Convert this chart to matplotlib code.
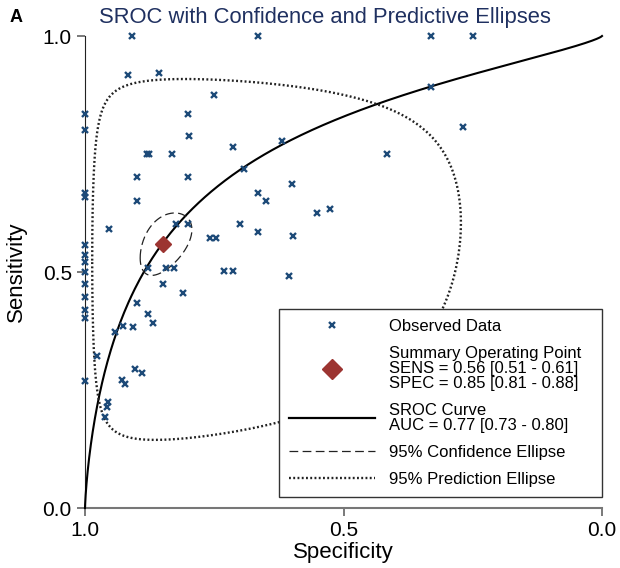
import numpy as np
import matplotlib
matplotlib.use("Agg")
import matplotlib.pyplot as plt
from matplotlib.lines import Line2D

plt.rcParams['font.family'] = ['Liberation Sans', 'DejaVu Sans']

# observed studies (specificity, sensitivity)
spec = [0.910, 0.666, 0.331, 0.249,
        0.916, 0.857, 0.750, 0.331, 0.269,
        1.000, 1.000, 0.800, 0.798,
        0.881, 0.876, 0.832, 0.714, 0.618, 0.415,
        0.900, 0.800, 0.692, 0.600,
        1.000, 1.000, 0.900, 0.666, 0.649,
        0.552, 0.526,
        0.953, 0.824, 0.800, 0.700, 0.666, 0.597,
        0.758, 0.747,
        1.000, 1.000, 1.000, 1.000, 1.000, 1.000, 1.000, 1.000, 1.000,
        0.878, 0.844, 0.828, 0.732, 0.714, 0.605,
        0.850, 0.810, 0.900, 0.879, 0.868,
        0.942, 0.926, 0.907,
        0.977, 0.903, 0.889, 0.929, 0.923,
        0.955, 0.958, 0.961]
sens = [1.000, 1.000, 1.000, 1.000,
        0.917, 0.921, 0.876, 0.893, 0.808,
        0.835, 0.801, 0.834, 0.788,
        0.751, 0.751, 0.751, 0.764, 0.778, 0.751,
        0.702, 0.702, 0.718, 0.686,
        0.667, 0.658, 0.651, 0.668, 0.651,
        0.626, 0.633,
        0.592, 0.602, 0.602, 0.602, 0.585, 0.577,
        0.573, 0.573,
        0.557, 0.536, 0.522, 0.501, 0.475, 0.446, 0.419, 0.403, 0.269,
        0.509, 0.509, 0.509, 0.502, 0.502, 0.491,
        0.474, 0.456, 0.435, 0.412, 0.393,
        0.373, 0.386, 0.384,
        0.323, 0.294, 0.285, 0.271, 0.263,
        0.225, 0.213, 0.193]

# summary estimates
sum_sens = 0.56
sum_spec = 0.85
# SROC: logit(sens) = a + b * logit(1 - spec)
sroc_a = 1.58
sroc_b = 0.77
# ellipses in logit space: centre (logit spec, logit sens), sds, correlation
conf_ell = (np.log(0.85 / 0.15), np.log(0.56 / 0.44), 0.39, 0.27, -0.45)
pred_ell = (1.64, 0.26, 2.62, 2.04, -0.08)

legend_labels = ["Observed Data",
                 "Summary Operating Point\nSENS = 0.56 [0.51 - 0.61]\nSPEC = 0.85 [0.81 - 0.88]",
                 "SROC Curve\nAUC = 0.77 [0.73 - 0.80]",
                 "95% Confidence Ellipse",
                 "95% Prediction Ellipse"]

logit = lambda p: np.log(p / (1 - p))
expit = lambda z: 1 / (1 + np.exp(-z))


def ellipse(mx, my, sdx, sdy, rho):
    t = np.linspace(0, 2 * np.pi, 500)
    xl = mx + sdx * np.cos(t)
    yl = my + sdy * (rho * np.cos(t) + np.sqrt(1 - rho ** 2) * np.sin(t))
    return expit(xl), expit(yl)


fig = plt.figure(figsize=(6.2, 5.68), dpi=100)
ax = fig.add_axes([85 / 620, 1 - 508 / 568, 517 / 620, 472 / 568])

blue = '#1d4a78'
red = '#9c3431'

fpr = np.concatenate([np.logspace(-7, -1, 400), np.linspace(0.1, 1 - 1e-7, 600)])
sroc_sens = expit(sroc_a + sroc_b * logit(fpr))
ax.plot(1 - fpr, sroc_sens, color='black', lw=1.5, clip_on=False, zorder=3)

cx, cy = ellipse(*conf_ell)
ax.plot(cx, cy, color='#222222', lw=0.9, dashes=(7, 3.5), zorder=3)
px, py = ellipse(*pred_ell)
ax.plot(px, py, color='#222222', lw=1.7, ls=(0, (0.8, 1.0)), zorder=3)

ax.plot(spec, sens, ls='none', marker='x', ms=5, mew=1.7, color=blue, clip_on=False, zorder=4)
ax.plot([sum_spec], [sum_sens], ls='none', marker='D', ms=8.5, color=red, zorder=5)

ax.set_xlim(1, 0)
ax.set_ylim(0, 1)
ax.set_xticks([1.0, 0.5, 0.0])
ax.set_yticks([0.0, 0.5, 1.0])
ax.set_xticklabels(['1.0', '0.5', '0.0'])
ax.set_yticklabels(['0.0', '0.5', '1.0'])
ax.tick_params(axis='both', labelsize=15, length=6, width=1.1, colors='#555555', labelcolor='black')
ax.spines['top'].set_visible(False)
ax.spines['right'].set_visible(False)
ax.spines['left'].set_color('#222222')
ax.spines['bottom'].set_color('#777777')
ax.spines['bottom'].set_linewidth(1.5)
ax.set_xlabel('Specificity', fontsize=16, labelpad=1)
ax.set_ylabel('Sensitivity', fontsize=16, labelpad=11)

handles = [Line2D([], [], ls='none', marker='x', ms=5, mew=1.7, color=blue),
           Line2D([], [], ls='none', marker='D', ms=10, color=red),
           Line2D([], [], color='black', lw=1.6),
           Line2D([], [], color='#222222', lw=0.9, dashes=(7, 3.5)),
           Line2D([], [], color='#222222', lw=1.7, ls=(0, (0.8, 1.0)))]
leg = ax.legend(handles, legend_labels, loc='lower left',
                bbox_to_anchor=((279 - 85) / 517, 0.023, 323 / 517, 0.3), mode='expand',
                borderaxespad=0, fontsize=12, frameon=True, fancybox=False,
                edgecolor='#333333', framealpha=1, handlelength=5.15, handletextpad=0.84,
                labelspacing=0.72, borderpad=0.6)
leg.get_frame().set_linewidth(1.0)
for t in leg.get_texts():
    t.set_linespacing(1.0)

fig.text(325 / 620, 1 - 18 / 568, 'SROC with Confidence and Predictive Ellipses',
         fontsize=15.8, color='#1f3060', ha='center', va='center')
fig.text(10 / 620, 1 - 18 / 568, 'A', fontsize=13, fontweight='bold', ha='left', va='center')

fig.savefig('out.png', dpi=100)
